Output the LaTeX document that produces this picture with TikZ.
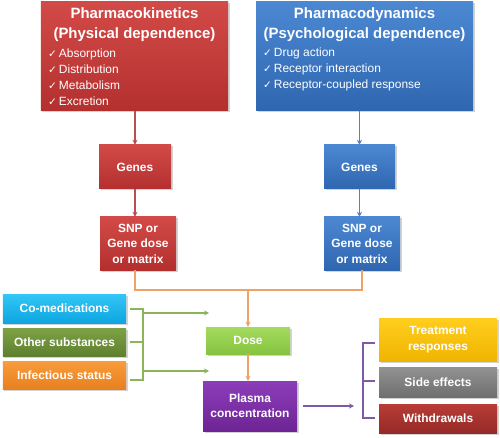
\documentclass[tikz,border=0pt]{standalone}
\usepackage{fontspec}
\setmainfont{Liberation Sans}
\newfontfamily\dejavu{DejaVu Sans}
\usetikzlibrary{arrows.meta,shadows}
\definecolor{redA}{HTML}{D24A48}\definecolor{redB}{HTML}{B3302E}
\definecolor{blueA}{HTML}{4C88D2}\definecolor{blueB}{HTML}{2F66B0}
\definecolor{cyanA}{HTML}{33C6F6}\definecolor{cyanB}{HTML}{0EA5E0}
\definecolor{oliveA}{HTML}{7DA244}\definecolor{oliveB}{HTML}{5F8030}
\definecolor{orA}{HTML}{F89C3C}\definecolor{orB}{HTML}{E8801E}
\definecolor{lgA}{HTML}{A4DB5E}\definecolor{lgB}{HTML}{86C440}
\definecolor{puA}{HTML}{8C3DBA}\definecolor{puB}{HTML}{6E2494}
\definecolor{goA}{HTML}{FFCE1E}\definecolor{goB}{HTML}{F0B400}
\definecolor{grA}{HTML}{929292}\definecolor{grB}{HTML}{6F6F6F}
\definecolor{drA}{HTML}{B83C37}\definecolor{drB}{HTML}{952A26}
\definecolor{redL}{HTML}{B5504E}\definecolor{blueL}{HTML}{5580C0}
\definecolor{orL}{HTML}{F0A266}\definecolor{grnL}{HTML}{8DB45A}
\definecolor{puL}{HTML}{7E5AA6}
\begin{document}
\begin{tikzpicture}[x=1bp,y=-1bp,
  bx/.style={draw=none, text=white, font=\bfseries\fontsize{12}{15.5}\selectfont,
    align=center, inner sep=0pt,
    drop shadow={opacity=0.35,shadow xshift=1.5bp,shadow yshift=-1.5bp}},
  redbx/.style={bx, top color=redA, bottom color=redB},
  bluebx/.style={bx, top color=blueA, bottom color=blueB},
  txt/.style={text=white, inner sep=0pt},
  ttl/.style={txt, align=center, font=\bfseries\fontsize{15}{20}\selectfont},
  lst/.style={txt, align=left, anchor=west, font=\fontsize{12}{16}\selectfont},
  conn/.style={line width=1.5bp},
  arr/.style={conn, -{Stealth[length=5bp,width=5bp]}}
]
\newcommand{\ck}{{\dejavu\fontsize{10.5}{16}\selectfont ✓}\hspace{2bp}}
\useasboundingbox (0,0) rectangle (500,438);

% top boxes
\node[redbx, minimum width=187bp, minimum height=109bp] (rk) at (134.5,56.5) {};
\node[bluebx, minimum width=217bp, minimum height=109bp] (bd) at (364.5,56.5) {};
\node[ttl] (rkt) at (134.5,25) {Pharmacokinetics\\(Physical dependence)};
\node[ttl] (bdt) at (364.5,25) {Pharmacodynamics\\(Psychological dependence)};
\node[lst] (rkl) at (48,77) {\ck Absorption\\\ck Distribution\\\ck Metabolism\\\ck Excretion};
\node[lst] (bdl) at (263,69) {\ck Drug action\\\ck Receptor interaction\\\ck Receptor-coupled response};

% genes and SNP
\node[redbx, minimum width=72bp, minimum height=44bp] (gR) at (135,167) {Genes};
\node[redbx, minimum width=76bp, minimum height=53bp] (sR) at (138,243.5) {SNP or\\Gene dose\\or matrix};
\node[bluebx, minimum width=71bp, minimum height=44bp] (gB) at (359.5,167) {Genes};
\node[bluebx, minimum width=76bp, minimum height=53bp] (sB) at (362,243.5) {SNP or\\Gene dose\\or matrix};

\draw[arr, redL] (gR.north |- rk.south) -- (gR.north);
\draw[arr, redL] (gR.south) -- (gR.south |- sR.north);
\draw[arr, blueL] (gB.north |- bd.south) -- (gB.north);
\draw[arr, blueL] (gB.south) -- (gB.south |- sB.north);

% dose and plasma
\node[bx, top color=lgA, bottom color=lgB, minimum width=84bp, minimum height=27bp] (dose) at (248,340.5) {Dose};
\node[bx, top color=puA, bottom color=puB, minimum width=94bp, minimum height=50bp] (pl) at (250,406) {Plasma\\concentration};

\coordinate (j) at (248,290);
\draw[conn, orL] (sR.south -| gR.south) |- (j) -| (sB.south);
\draw[arr, orL] (j) -- (dose.north);
\draw[arr, orL] (dose.south) -- (dose.south |- pl.north);

% left factors
\node[bx, top color=cyanA, bottom color=cyanB, minimum width=123bp, minimum height=29bp] (co) at (64.5,308.5) {Co-medications};
\node[bx, top color=oliveA, bottom color=oliveB, minimum width=123bp, minimum height=28bp] (ot) at (64.5,342) {Other substances};
\node[bx, top color=orA, bottom color=orB, minimum width=123bp, minimum height=28bp] (inf) at (64.5,375) {Infectious status};

\coordinate (g1) at (130,309);
\coordinate (g2) at (130,342);
\coordinate (g3) at (130,380);
\coordinate (gv1) at (143,309);
\coordinate (gv2) at (143,342);
\coordinate (gv3) at (143,380);
\coordinate (ga1) at (143,313);
\coordinate (ga2) at (143,371);
\coordinate (gt1) at (209,313);
\coordinate (gt2) at (209,371);
\draw[conn, grnL] (g1) -- (gv1) -- (gv3) -- (g3);
\draw[conn, grnL] (g2) -- (gv2);
\draw[arr, grnL] (ga1) -- (gt1);
\draw[arr, grnL] (ga2) -- (gt2);

% right outcomes
\node[bx, top color=goA, bottom color=goB, minimum width=118bp, minimum height=43bp] (tr) at (438,339.5) {Treatment\\responses};
\node[bx, top color=grA, bottom color=grB, minimum width=118bp, minimum height=30bp] (se) at (438,382) {Side effects};
\node[bx, top color=drA, bottom color=drB, minimum width=118bp, minimum height=29bp] (wd) at (438,418.5) {Withdrawals};

\coordinate (ps) at (303,406);
\coordinate (pe) at (354,406);
\draw[arr, puL] (ps) -- (pe);
\coordinate (p1) at (375,343);
\coordinate (p2) at (375,381);
\coordinate (p3) at (375,418);
\coordinate (pv1) at (363,343);
\coordinate (pv2) at (363,381);
\coordinate (pv3) at (363,418);
\draw[conn, puL] (p1) -- (pv1) -- (pv3) -- (p3);
\draw[conn, puL] (pv2) -- (p2);
\end{tikzpicture}
\end{document}
